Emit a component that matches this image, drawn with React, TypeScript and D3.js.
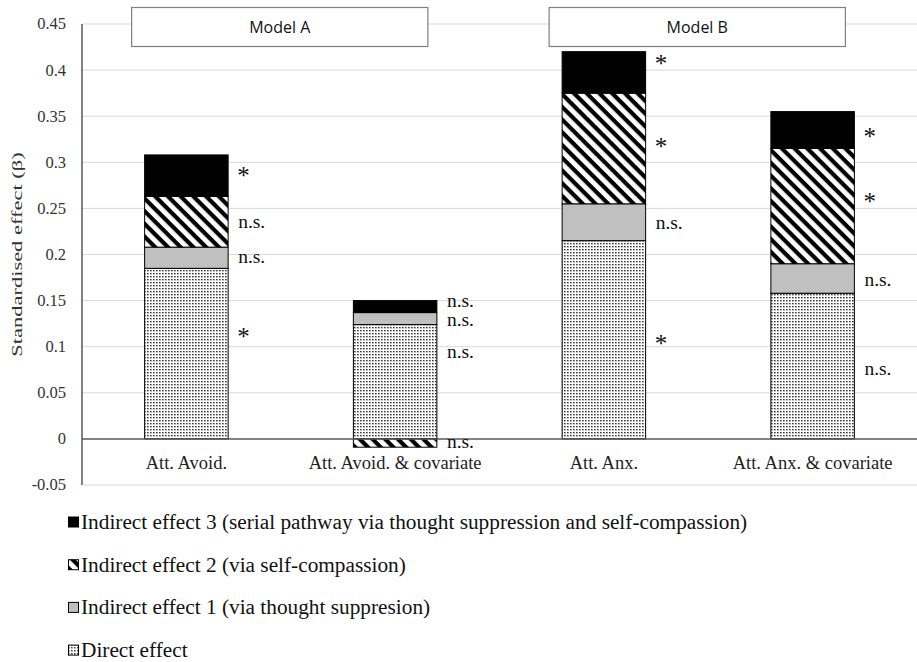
import * as d3 from "d3";

const categories = ["Att. Avoid.", "Att. Avoid. & covariate", "Att. Anx.", "Att. Anx. & covariate"];
const seriesKeys = ["direct", "ind1", "ind2", "ind3"];
const directEffect = [0.185, 0.124, 0.215, 0.158];
const indirect1 = [0.023, 0.013, 0.04, 0.032];
const indirect2 = [0.055, -0.009, 0.12, 0.125];
const indirect3 = [0.045, 0.013, 0.045, 0.04];
const yTicks = [-0.05, 0, 0.05, 0.1, 0.15, 0.2, 0.25, 0.3, 0.35, 0.4, 0.45];

// significance markers per category: [direct, ind1, ind2, ind3]
const sigText = [
  ["*", "n.s.", "n.s.", "*"],
  ["n.s.", "n.s.", "n.s.", "n.s."],
  ["*", "n.s.", "*", "*"],
  ["n.s.", "n.s.", "*", "*"],
];
// vertical position (in beta units) of each marker
const sigPos = [
  [0.115, 0.195, 0.233, 0.29],
  [0.092, 0.127, -0.005, 0.148],
  [0.108, 0.232, 0.321, 0.411],
  [0.074, 0.17, 0.262, 0.332],
];

const models = [
  { name: "Model A", from: 0, to: 1 },
  { name: "Model B", from: 2, to: 3 },
];

const legendItems = [
  { key: "ind3", label: "Indirect effect 3 (serial pathway via thought suppression and self-compassion)" },
  { key: "ind2", label: "Indirect effect 2 (via self-compassion)" },
  { key: "ind1", label: "Indirect effect 1 (via thought suppresion)" },
  { key: "direct", label: "Direct effect" },
];

const fills: Record<string, string> = {
  direct: "url(#dots)",
  ind1: "#c0c0c0",
  ind2: "url(#stripes)",
  ind3: "#000",
};

const SERIF = "Liberation Serif";
const SANS = "Open Sans";

const width = 917;
const height = 662;
const margin = { top: 24, left: 82, right: 0, bottom: 177 };

export default function App() {
  const x = d3
    .scaleBand()
    .domain(categories)
    .range([margin.left, width - margin.right])
    .paddingInner(0.6)
    .paddingOuter(0.3);

  const y = d3
    .scaleLinear()
    .domain([-0.05, 0.45])
    .range([height - margin.bottom, margin.top]);

  const rows = categories.map((c, i) => ({
    cat: c,
    direct: directEffect[i],
    ind1: indirect1[i],
    ind2: indirect2[i],
    ind3: indirect3[i],
  }));
  const layers = d3.stack<any>().keys(seriesKeys).offset(d3.stackOffsetDiverging)(rows);

  return (
    <div style={{ position: "absolute", left: 0, top: 0 }}>
      <svg width={width} height={height} viewBox={`0 0 ${width} ${height}`} style={{ display: "block" }}>
        <defs>
          <pattern id="dots" patternUnits="userSpaceOnUse" width={3} height={3}>
            <rect width={3} height={3} fill="#fff" />
            <rect width={2} height={1.5} fill="#8a8a8a" />
            <rect width={1} height={1} fill="#333" />
          </pattern>
          <pattern id="stripes" patternUnits="userSpaceOnUse" width={9} height={9} patternTransform="rotate(45)">
            <rect width={9} height={9} fill="#fff" />
            <rect width={9} height={4.2} fill="#000" />
          </pattern>
        </defs>

        {/* grid */}
        {yTicks
          .filter((t) => t !== 0)
          .map((t) => (
            <line key={t} x1={margin.left} x2={width} y1={y(t)} y2={y(t)} stroke="#d9d9d9" />
          ))}

        {/* y tick labels */}
        {yTicks.map((t) => (
          <text
            key={t}
            x={66}
            y={y(t)}
            dy="0.33em"
            textAnchor="end"
            fontFamily={SERIF}
            fontSize={16.5}
            fill="#333"
          >
            {String(t)}
          </text>
        ))}

        <text
          transform={`translate(22,${y(0.2)}) rotate(-90) scale(1.55,1)`}
          textAnchor="middle"
          fontFamily={SERIF}
          fontSize={14.5}
          fill="#333"
        >
          Standardised effect (β)
        </text>

        {/* bars */}
        {layers.map((layer) =>
          layer.map((d: any) => (
            <rect
              key={layer.key + d.data.cat}
              x={x(d.data.cat)}
              width={x.bandwidth()}
              y={y(Math.max(d[0], d[1]))}
              height={Math.abs(y(d[0]) - y(d[1]))}
              fill={fills[layer.key]}
              stroke="#000"
              strokeWidth={1}
            />
          ))
        )}

        {/* axis lines */}
        <line x1={margin.left} x2={width} y1={y(0)} y2={y(0)} stroke="#595959" strokeWidth={1.5} />
        <line x1={margin.left} x2={margin.left} y1={y(0.45)} y2={y(-0.05)} stroke="#595959" strokeWidth={1.5} />

        {/* category labels */}
        {categories.map((c) => (
          <text
            key={c}
            x={x(c)! + x.bandwidth() / 2}
            y={y(-0.026)}
            dy="0.33em"
            textAnchor="middle"
            fontFamily={SERIF}
            fontSize={18.5}
            fill="#222"
          >
            {c}
          </text>
        ))}

        {/* significance markers */}
        {categories.map((c, i) =>
          sigText[i].map((t, j) => (
            <text
              key={c + j}
              x={x(c)! + x.bandwidth() + (t === "*" ? 9 : 10)}
              y={y(sigPos[i][j])}
              dy={t === "*" ? "0.5em" : "0.22em"}
              fontFamily={SERIF}
              fontSize={t === "*" ? 25 : 19.5}
              fill="#111"
            >
              {t}
            </text>
          ))
        )}

        {/* model boxes */}
        {models.map((m) => {
          const x0 = x(categories[m.from])! - 13;
          const x1 = x(categories[m.to])! + x.bandwidth() - 9;
          return (
            <g key={m.name}>
              <rect x={x0} y={7.5} width={x1 - x0} height={39} fill="#fff" stroke="#7f7f7f" strokeWidth={1.2} />
              <text x={(x0 + x1) / 2} y={27} dy="0.35em" textAnchor="middle" fontFamily={SANS} fontSize={16} fill="#111">
                {m.name}
              </text>
            </g>
          );
        })}

        {/* legend */}
        <g transform="translate(68,522)">
          {legendItems.map((it, i) => (
            <g key={it.key} transform={`translate(0,${i * 42.7})`}>
              <rect x={0.5} y={-5} width={10} height={10} fill={fills[it.key]} stroke="#000" strokeWidth={1} />
              <text x={13} y={0} dy="0.33em" fontFamily={SERIF} fontSize={21.3} fill="#111">
                {it.label}
              </text>
            </g>
          ))}
        </g>
      </svg>
    </div>
  );
}
